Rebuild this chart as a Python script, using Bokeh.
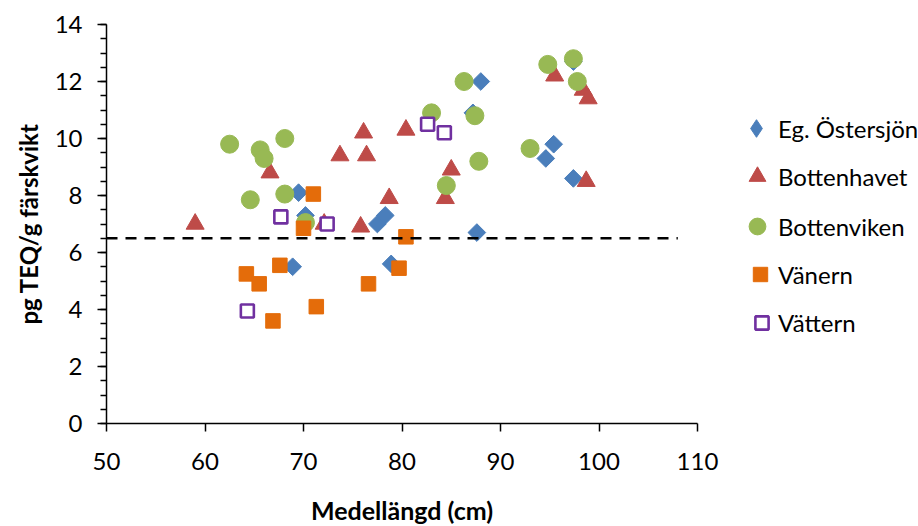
import math
from bokeh.plotting import figure
from bokeh.models import Range1d, SingleIntervalTicker, Legend, LegendItem, Label
from bokeh.embed import file_html
from bokeh.resources import INLINE

# ---- data ----
series_names = ["Eg. Östersjön", "Bottenhavet", "Bottenviken", "Vänern", "Vättern"]

ostersjon_x = [68.9, 69.5, 70.2, 77.5, 78.3, 78.9, 87.6, 87.2, 88.0, 94.6, 95.4, 97.4, 97.4]
ostersjon_y = [5.5, 8.1, 7.3, 7.0, 7.3, 5.6, 6.7, 10.9, 12.0, 9.3, 9.8, 8.6, 12.7]

bottenhavet_x = [59.0, 66.6, 72.1, 73.7, 75.8, 76.1, 76.4, 78.7, 80.4, 84.4, 85.0, 95.5, 98.4, 98.9, 98.7]
bottenhavet_y = [7.0, 8.8, 7.0, 9.4, 6.9, 10.2, 9.4, 7.9, 10.3, 7.9, 8.9, 12.2, 11.7, 11.4, 8.5]

bottenviken_x = [62.5, 65.6, 66.0, 68.1, 64.6, 68.1, 70.2, 83.0, 86.3, 87.4, 87.8, 84.5, 93.0, 94.8, 97.4, 97.8]
bottenviken_y = [9.8, 9.6, 9.3, 10.0, 7.85, 8.05, 7.05, 10.9, 12.0, 10.8, 9.2, 8.35, 9.65, 12.6, 12.8, 12.0]

vanern_x = [71.0, 70.0, 80.4, 67.6, 64.2, 65.5, 76.6, 79.7, 71.3, 66.9]
vanern_y = [8.05, 6.85, 6.55, 5.55, 5.25, 4.9, 4.9, 5.45, 4.1, 3.6]

vattern_x = [64.3, 67.7, 72.4, 82.6, 84.3]
vattern_y = [3.95, 7.25, 7.0, 10.5, 10.2]

limit_x = [50, 108]
limit_y = [6.5, 6.5]

x_start, x_end, x_step = 50, 110, 10
y_start, y_end, y_step = 0, 14, 2

x_title = "Medellängd (cm)"
y_title = "pg TEQ/g färskvikt"

FONT = "Lato"
TXT = "#000000"
BLUE, RED, GREEN, ORANGE, PURPLE = "#4A7EBB", "#BE4B48", "#98B954", "#E46C0A", "#7030A0"

W, H = 918, 526
FRAME_LEFT, FRAME_TOP, AXIS_RIGHT, FRAME_BOTTOM = 106, 24, 697, 423
frame_w = W - FRAME_LEFT
# the frame runs on to the right edge so that the legend sits inside it;
# the x axis itself is bounded to 50..110
x_view_end = x_start + (x_end - x_start) * frame_w / (AXIS_RIGHT - FRAME_LEFT)
y_px_per_unit = (FRAME_BOTTOM - FRAME_TOP) / (y_end - y_start)

p = figure(width=W, height=H, output_backend="svg", toolbar_location=None,
           x_range=Range1d(x_start, x_view_end), y_range=Range1d(y_start, y_end),
           min_border_left=FRAME_LEFT, min_border_right=0, min_border_top=FRAME_TOP,
           min_border_bottom=H - FRAME_BOTTOM)
p.outline_line_color = None
p.xgrid.visible = False
p.ygrid.visible = False
p.background_fill_color = "white"
p.border_fill_color = "white"

p.xaxis.ticker = SingleIntervalTicker(interval=x_step, num_minor_ticks=0)
p.yaxis.ticker = SingleIntervalTicker(interval=y_step, num_minor_ticks=4)
p.xaxis.bounds = (x_start, x_end)

for ax in (p.xaxis, p.yaxis):
    ax.axis_line_color = "black"
    ax.axis_line_width = 1.5
    ax.major_tick_line_color = "black"
    ax.major_tick_line_width = 1.5
    ax.minor_tick_line_color = "black"
    ax.minor_tick_line_width = 1.5
    ax.major_tick_in = 0
    ax.minor_tick_in = 0
    ax.major_label_text_font = FONT
    ax.major_label_text_font_size = "24px"
    ax.major_label_text_color = TXT
    ax.axis_label_text_font = FONT
    ax.axis_label_text_font_size = "24px"
    ax.axis_label_text_font_style = "bold"
    ax.axis_label_text_color = TXT

p.xaxis.major_tick_out = 8
p.xaxis.major_label_standoff = 21

p.yaxis.major_tick_out = 9
p.yaxis.minor_tick_out = 6
p.yaxis.major_label_standoff = 15
p.yaxis.axis_label = y_title
p.yaxis.axis_label_standoff = 9

# x-axis title: centred on the middle of the 50..110 axis, 86 px under it
xlab = Label(x=(x_start + x_end) / 2, y=y_start - 86 / y_px_per_unit,
             x_units="data", y_units="data",
             text=x_title, text_align="center", text_baseline="middle",
             text_font=FONT, text_font_size="25px", text_font_style="bold",
             text_color=TXT)
p.add_layout(xlab, "below")

# legend stand-in for the rotated-square series (legend glyphs are drawn unrotated);
# drawn first and small, so it stays hidden beneath the real markers
r1_legend = p.scatter(ostersjon_x, ostersjon_y, marker="diamond", size=8,
                      fill_color=BLUE, line_color=BLUE, line_width=1)

r1 = p.scatter(ostersjon_x, ostersjon_y, marker="square", angle=math.pi / 4, size=12.5,
               fill_color=BLUE, line_color=BLUE, line_width=1)
r2 = p.scatter(bottenhavet_x, bottenhavet_y, marker="triangle", size=18,
               fill_color=RED, line_color=RED, line_width=1)
r3 = p.scatter(bottenviken_x, bottenviken_y, marker="circle", size=18,
               fill_color=GREEN, line_color=GREEN, line_width=1)
r4 = p.scatter(vanern_x, vanern_y, marker="square", size=14.5,
               fill_color=ORANGE, line_color=ORANGE, line_width=1)
r5 = p.scatter(vattern_x, vattern_y, marker="square", size=13,
               fill_color="white", line_color=PURPLE, line_width=2.6)

p.line(limit_x, limit_y, line_color="black", line_width=2.5, line_dash="11 8")

# legends: one per series so each glyph box can be sized to its marker
legend_renderers = [r1_legend, r2, r3, r4, r5]
boxes = [44, 42, 42, 36, 33]
centers_y = [128, 176, 226, 274, 322]   # page px of item centres
text_x = 778
for name, r, w, cy in zip(series_names, legend_renderers, boxes, centers_y):
    lg = Legend(items=[LegendItem(label=name, renderers=[r])],
                glyph_width=w, glyph_height=w, label_height=w,
                label_standoff=0,
                padding=0, margin=0, spacing=0,
                border_line_color=None, background_fill_alpha=0,
                label_text_font=FONT, label_text_font_size="24px", label_text_color=TXT,
                location=(text_x - w - FRAME_LEFT, FRAME_BOTTOM - (cy + w / 2)))
    p.add_layout(lg, "center")

open("out.html", "w").write(file_html(p, INLINE))
